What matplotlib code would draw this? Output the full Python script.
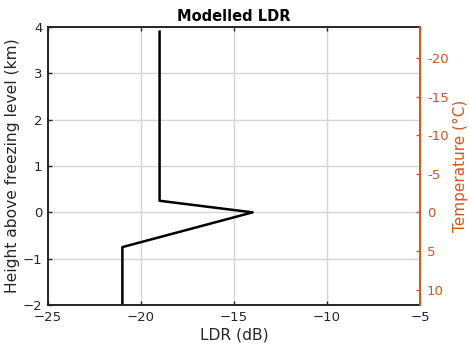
import matplotlib
matplotlib.use("Agg")
import matplotlib.pyplot as plt

# modelled LDR profile vs height relative to the freezing level
ldr_db = [-19, -19, -14, -21, -21]
height_km = [3.9, 0.25, 0.0, -0.75, -2.0]

temp_ticks = [10, 5, 0, -5, -10, -15, -20]
lapse_rate = 6.0  # degC per km

orange = "#D95319"
dark = "#262626"
plt.rcParams["font.family"] = "DejaVu Sans"
plt.rcParams["font.size"] = 9.5

fig = plt.figure(figsize=(4.69, 3.49), dpi=100)
ax = fig.add_axes([0.1023, 0.126, 0.7932, 0.7966])

ax.plot(ldr_db, height_km, color="black", lw=1.8)
ax.set_xlim(-25, -5)
ax.set_ylim(-2, 4)
ax.set_xticks([-25, -20, -15, -10, -5])
ax.set_yticks([-2, -1, 0, 1, 2, 3, 4])
ax.grid(True, color="#d6d6d6", lw=1.0)
ax.set_axisbelow(True)
ax.tick_params(direction="in", length=3, width=1, top=True, colors=dark,
               labelcolor=dark, pad=4)
for s in ("left", "bottom", "top"):
    ax.spines[s].set_linewidth(1.4)
    ax.spines[s].set_color(dark)
ax.spines["right"].set_visible(False)
ax.set_xlabel("LDR (dB)", color=dark, fontsize=11.2, labelpad=3)
ax.set_ylabel("Height above freezing level (km)", color=dark, fontsize=11.2,
              labelpad=2)
ax.set_title("Modelled LDR", fontweight="bold", fontsize=10.5, pad=4)

# temperature axis on the right, decreasing upward with the lapse rate
ax2 = ax.twinx()
ax2.set_ylim(-2 * -lapse_rate, 4 * -lapse_rate)
ax2.set_yticks(temp_ticks)
ax2.set_yticklabels([str(t) for t in temp_ticks])
ax2.tick_params(direction="in", length=3, width=1, colors=orange, pad=5)
for s in ("left", "bottom", "top"):
    ax2.spines[s].set_visible(False)
ax2.spines["right"].set_color(orange)
ax2.spines["right"].set_linewidth(1.4)
ax2.set_ylabel("Temperature (°C)", color=orange, fontsize=11, labelpad=3)

fig.savefig("out.png", dpi=100)
